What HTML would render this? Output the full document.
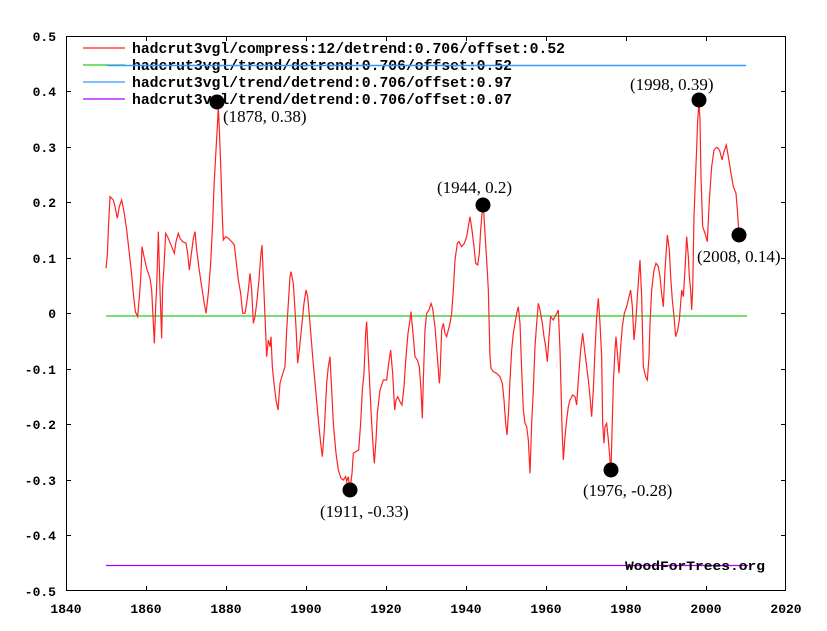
<!DOCTYPE html>
<html><head><meta charset="utf-8"><style>html,body{margin:0;padding:0;background:#fff}svg{display:block}</style></head>
<body>
<svg width="827" height="631" viewBox="0 0 827 631" xmlns="http://www.w3.org/2000/svg">
<rect width="827" height="631" fill="#fff"/>
<g stroke="#000" stroke-width="1" fill="none">
<rect x="66.5" y="36.5" width="719" height="554"/>
<path d="M146.5,36v5M226.5,36v5M306.5,36v5M386.5,36v5M466.5,36v5M546.5,36v5M626.5,36v5M706.5,36v5
M146.5,591v-5M226.5,591v-5M306.5,591v-5M386.5,591v-5M466.5,591v-5M546.5,591v-5M626.5,591v-5M706.5,591v-5
M66,91.5h5M66,147.5h5M66,202.5h5M66,258.5h5M66,313.5h5M66,369.5h5M66,424.5h5M66,480.5h5M66,535.5h5
M786,91.5h-5M786,147.5h-5M786,202.5h-5M786,258.5h-5M786,313.5h-5M786,369.5h-5M786,424.5h-5M786,480.5h-5M786,535.5h-5"/>
</g>
<g font-family="Liberation Mono, monospace" font-weight="bold" font-size="13" fill="#000">
<text x="56" y="41" text-anchor="end">0.5</text>
<text x="56" y="96" text-anchor="end">0.4</text>
<text x="56" y="152" text-anchor="end">0.3</text>
<text x="56" y="207" text-anchor="end">0.2</text>
<text x="56" y="263" text-anchor="end">0.1</text>
<text x="56" y="318" text-anchor="end">0</text>
<text x="56" y="374" text-anchor="end">-0.1</text>
<text x="56" y="429" text-anchor="end">-0.2</text>
<text x="56" y="485" text-anchor="end">-0.3</text>
<text x="56" y="540" text-anchor="end">-0.4</text>
<text x="56" y="596" text-anchor="end">-0.5</text>
<g text-anchor="middle">
<text x="66" y="613">1840</text><text x="146" y="613">1860</text><text x="226" y="613">1880</text><text x="306" y="613">1900</text><text x="386" y="613">1920</text><text x="466" y="613">1940</text><text x="546" y="613">1960</text><text x="626" y="613">1980</text><text x="706" y="613">2000</text><text x="786" y="613">2020</text>
</g>
</g>
<line x1="106" y1="316" x2="747" y2="316" stroke="#2c2" stroke-width="1.3"/>
<line x1="106" y1="565.5" x2="748" y2="565.5" stroke="#a0f" stroke-width="1.3"/>
<g stroke-width="1.3">
<line x1="83" y1="48" x2="125" y2="48" stroke="#f22"/>
<line x1="83" y1="65" x2="125" y2="65" stroke="#2c2"/>
<line x1="83" y1="82" x2="125" y2="82" stroke="#39f"/>
<line x1="83" y1="99" x2="125" y2="99" stroke="#a0f"/>
</g>
<g font-family="Liberation Mono, monospace" font-weight="bold" font-size="14.7" fill="#000">
<text x="132" y="53" textLength="433" lengthAdjust="spacingAndGlyphs">hadcrut3vgl/compress:12/detrend:0.706/offset:0.52</text>
<text x="132" y="70" textLength="380" lengthAdjust="spacingAndGlyphs">hadcrut3vgl/trend/detrend:0.706/offset:0.52</text>
<text x="132" y="87" textLength="380" lengthAdjust="spacingAndGlyphs">hadcrut3vgl/trend/detrend:0.706/offset:0.97</text>
<text x="132" y="104" textLength="380" lengthAdjust="spacingAndGlyphs">hadcrut3vgl/trend/detrend:0.706/offset:0.07</text>
</g>
<line x1="107" y1="65.5" x2="746" y2="65.5" stroke="#39f" stroke-width="1.5"/>
<text x="625" y="570" font-family="Liberation Mono, monospace" font-weight="bold" font-size="13" textLength="140" lengthAdjust="spacingAndGlyphs">WoodForTrees.org</text>
<g fill="none" stroke="#f22" stroke-width="1.2">
<polyline vector-effect="non-scaling-stroke" transform="translate(100,90) scale(0.33333)" points="18,535 22,495 25,420 30,320 40,330 45,350 52,385 58,350 65,330 72,365 80,420 88,490 95,555 100,610 106,665 113,680 118,620 122,570 126,470 132,500 140,535 150,565 155,600 160,700 163,760 167,650 170,590 175,425 180,600 185,745 188,590 192,530 197,430 205,445 215,470 223,490 228,455 235,430 240,445 248,455 258,460 263,490 268,540 273,500 280,445 285,425 290,480 297,535 305,590 312,635 318,670 325,610 332,520 338,400 342,290 348,180 352,110 355,50 358,120 363,250 367,380 370,450 377,440 385,445 395,455 403,465 408,510 415,570 422,610 428,670 435,670 440,640 445,600 450,550 455,600 460,700 465,680 470,640 477,570 482,500 486,465 490,560 495,680 500,800 505,750 510,770 513,740 517,830 522,880 528,930 534,960 540,880 547,855 555,830 560,720 565,640 570,560 573,545 580,580 588,710 593,820 598,780 605,710 612,640 618,600 623,620 630,700 638,800 647,900 655,990 662,1060 667,1100 673,1020 680,880 685,830 690,800 695,900 700,1000 708,1090 715,1140 723,1165 730,1170 737,1160 740,1175 745,1160 750,1200 756,1150 760,1090 768,1085 776,1080 782,1000 787,900 792,850 797,730 800,695 805,800 810,900 815,1000 820,1080 823,1120 828,1050 832,970 840,900 850,870 860,870 866,820 872,780 878,850 884,960 888,930 893,920 900,935 906,945 912,890 918,800 924,730 930,690 933,665 938,720 945,800 952,810 958,830 963,900 967,985 970,870 975,720 980,670 987,660 993,640 998,655 1005,710 1012,800 1018,880 1020,860"/>
<polyline vector-effect="non-scaling-stroke" transform="translate(430,90) scale(0.33333)" points="30,860 35,720 40,700 45,730 50,740 55,720 60,700 65,670 70,600 75,510 82,460 87,455 95,470 103,460 110,440 115,410 120,380 126,420 132,470 137,520 143,525 148,490 152,420 157,360 160,345 165,430 170,510 175,600 180,800 183,835 190,845 200,850 210,860 217,880 222,930 227,1000 231,1035 236,960 240,870 245,780 250,730 255,700 260,670 265,650 270,700 275,840 280,960 285,1000 290,1010 295,1050 300,1150 305,1000 310,900 315,770 320,700 325,640 330,660 337,700 342,740 347,770 352,815 357,740 362,680 370,690 380,670 385,660 390,780 396,1010 400,1110 405,1040 410,990 415,950 420,930 428,915 435,920 440,945 445,870 452,780 458,730 465,790 470,830 475,870 480,920 485,980 490,900 495,780 500,680 505,625 510,700 515,800 518,1000 522,1060 525,1010 530,1000 535,1050 540,1110 543,1140 547,990 550,880 555,780 558,740 563,800 567,850 572,770 577,710 583,670 590,650 597,620 602,600 607,650 612,750 617,700 622,620 627,550 630,510 635,620 640,830 647,860 652,870 657,800 660,700 665,600 672,540 678,520 685,530 690,560 695,610 700,650 705,540 712,435 718,480 722,560 727,630 732,680 737,740 743,720 748,690 752,640 755,600 760,620 765,540 770,440 775,500 778,560 782,600 785,660 788,600 792,380 795,300 800,175 803,90 807,40 810,90 813,260 818,410 825,430 832,455 838,330 845,230 852,180 860,172 865,175 870,185 876,210 882,185 889,165 895,200 903,250 910,290 918,310 922,360 927,430"/>
</g>
<g fill="#000">
<circle cx="217" cy="102" r="7.5"/><circle cx="483" cy="205" r="7.5"/><circle cx="699" cy="100" r="7.5"/><circle cx="739" cy="235" r="7.5"/><circle cx="350" cy="490" r="7.5"/><circle cx="611" cy="470" r="7.5"/>
</g>
<g font-family="Liberation Serif, serif" font-size="17" fill="#000">
<text x="223" y="122">(1878, 0.38)</text>
<text x="437" y="193">(1944, 0.2)</text>
<text x="630" y="90">(1998, 0.39)</text>
<text x="697" y="262">(2008, 0.14)</text>
<text x="320" y="517">(1911, -0.33)</text>
<text x="583" y="496">(1976, -0.28)</text>
</g>
</svg>
</body></html>
